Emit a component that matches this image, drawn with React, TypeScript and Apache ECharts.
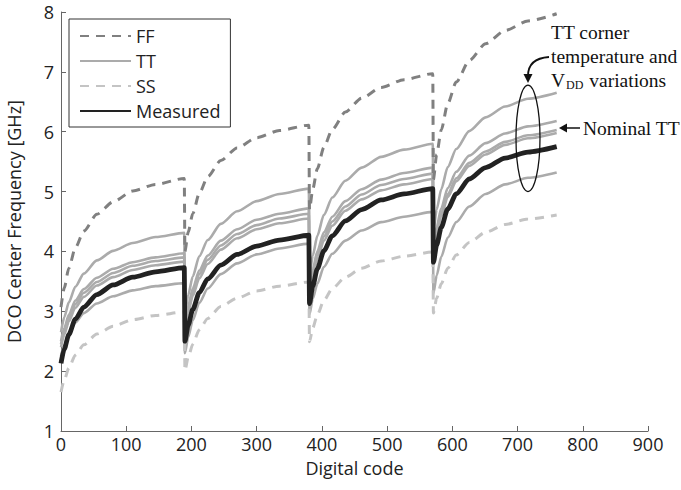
import React, { useEffect, useRef } from "react";
import * as echarts from "echarts";

// Digital code sample points (4 coarse-tuning segments)
const CODES = [
  0, 5, 12, 22, 35, 55, 80, 110, 145, 189,
  190, 195, 202, 212, 225, 245, 270, 300, 335, 380,
  381, 386, 393, 403, 416, 436, 461, 491, 526, 570,
  571, 576, 583, 593, 606, 626, 651, 681, 716, 760,
];

const FF = [
  3.07, 3.39, 3.72, 4.06, 4.34, 4.62, 4.83, 5.01, 5.12, 5.22,
  4.0, 4.32, 4.63, 4.97, 5.25, 5.52, 5.73, 5.9, 6.02, 6.11,
  4.7, 5.04, 5.38, 5.74, 6.04, 6.33, 6.56, 6.74, 6.87, 6.97,
  5.2, 5.62, 6.03, 6.47, 6.83, 7.19, 7.47, 7.69, 7.85, 7.97,
];

const SS = [
  1.65, 1.85, 2.05, 2.27, 2.44, 2.62, 2.75, 2.86, 2.93, 2.99,
  2.01, 2.23, 2.45, 2.69, 2.88, 3.08, 3.22, 3.34, 3.42, 3.49,
  2.49, 2.72, 2.94, 3.18, 3.38, 3.57, 3.72, 3.84, 3.92, 3.99,
  2.97, 3.22, 3.46, 3.72, 3.94, 4.15, 4.32, 4.45, 4.54, 4.61,
];

const MEASURED = [
  2.13, 2.37, 2.61, 2.87, 3.07, 3.28, 3.44, 3.57, 3.66, 3.73,
  2.5, 2.77, 3.03, 3.31, 3.54, 3.77, 3.95, 4.09, 4.19, 4.27,
  3.13, 3.42, 3.71, 4.01, 4.26, 4.51, 4.7, 4.86, 4.96, 5.05,
  3.82, 4.11, 4.4, 4.71, 4.96, 5.21, 5.4, 5.56, 5.66, 5.75,
];

const TT_HIGH = [
  2.65, 2.9, 3.15, 3.41, 3.63, 3.85, 4.01, 4.14, 4.24, 4.31,
  2.95, 3.27, 3.58, 3.92, 4.19, 4.46, 4.67, 4.84, 4.96, 5.05,
  3.6, 3.93, 4.26, 4.61, 4.9, 5.18, 5.4, 5.58, 5.7, 5.8,
  4.35, 4.7, 5.04, 5.41, 5.71, 6.01, 6.24, 6.42, 6.55, 6.65,
];

const TT_MIDHIGH = [
  2.5, 2.72, 2.94, 3.18, 3.37, 3.56, 3.71, 3.82, 3.9, 3.97,
  2.8, 3.09, 3.38, 3.68, 3.93, 4.18, 4.37, 4.53, 4.63, 4.72,
  3.4, 3.7, 4.0, 4.32, 4.58, 4.84, 5.04, 5.2, 5.31, 5.4,
  4.1, 4.41, 4.72, 5.06, 5.33, 5.6, 5.81, 5.97, 6.09, 6.18,
];

const TT_NOMINAL = [
  2.45, 2.67, 2.89, 3.12, 3.31, 3.49, 3.64, 3.76, 3.84, 3.9,
  2.75, 3.03, 3.31, 3.62, 3.86, 4.1, 4.29, 4.44, 4.55, 4.63,
  3.35, 3.64, 3.94, 4.25, 4.5, 4.75, 4.95, 5.11, 5.21, 5.3,
  4.05, 4.35, 4.64, 4.96, 5.22, 5.48, 5.67, 5.83, 5.94, 6.03,
];

const TT_MIDLOW = [
  2.4, 2.61, 2.83, 3.06, 3.24, 3.43, 3.57, 3.69, 3.77, 3.83,
  2.7, 2.98, 3.26, 3.55, 3.79, 4.03, 4.22, 4.37, 4.47, 4.55,
  3.3, 3.59, 3.87, 4.18, 4.43, 4.68, 4.87, 5.02, 5.12, 5.21,
  4.0, 4.3, 4.59, 4.91, 5.17, 5.43, 5.62, 5.78, 5.89, 5.98,
];

const TT_LOW = [
  2.25, 2.43, 2.62, 2.81, 2.97, 3.13, 3.25, 3.35, 3.42, 3.47,
  2.3, 2.57, 2.85, 3.14, 3.38, 3.62, 3.8, 3.95, 4.05, 4.13,
  2.95, 3.21, 3.46, 3.74, 3.96, 4.18, 4.35, 4.49, 4.58, 4.66,
  3.3, 3.6, 3.91, 4.23, 4.49, 4.75, 4.96, 5.12, 5.23, 5.32,
];

const LEGEND_NAMES = ["FF", "TT", "SS", "Measured"];
const X_TICKS = { min: 0, max: 900, interval: 100 };
const Y_TICKS = { min: 1, max: 8, interval: 1 };

const SANS = "'Open Sans', 'DejaVu Sans', sans-serif";
const SERIF = "'Liberation Serif', 'DejaVu Serif', serif";

const pairs = (vals: number[]) => CODES.map((c, i) => [c, vals[i]]);

export default function App() {
  const ref = useRef<HTMLDivElement>(null);

  useEffect(() => {
    if (!ref.current) return;
    const chart = echarts.init(ref.current, undefined, { renderer: "svg" });

    const ttStyle = { color: "#ababab", width: 2.6 };
    const ttSeries = [TT_HIGH, TT_MIDHIGH, TT_NOMINAL, TT_MIDLOW, TT_LOW].map((v) => ({
      name: "TT",
      type: "line",
      data: pairs(v),
      symbol: "none",
      smooth: 0.25,
      smoothMonotone: "x",
      lineStyle: ttStyle,
      itemStyle: { color: "#ababab" },
      z: 2,
    }));

    chart.setOption({
      animation: false,
      backgroundColor: "#ffffff",
      grid: { left: 61, right: 33, top: 12, bottom: 59, outerBoundsMode: "none", containLabel: false },
      legend: {
        data: LEGEND_NAMES,
        orient: "vertical",
        left: 69,
        top: 19,
        itemWidth: 51,
        itemHeight: 14,
        itemGap: 5,
        padding: [7, 10, 6, 10],
        borderColor: "#333",
        borderWidth: 1,
        itemStyle: { opacity: 0 },
        textStyle: { fontFamily: SANS, fontSize: 18, color: "#222", lineHeight: 20 },
        selectedMode: false,
      },
      xAxis: {
        type: "value",
        ...X_TICKS,
        name: "Digital code",
        nameLocation: "middle",
        nameGap: 28,
        nameTextStyle: { fontFamily: SANS, fontSize: 18, color: "#222" },
        axisLine: { lineStyle: { color: "#666", width: 1 } },
        axisTick: { inside: true, length: 5, lineStyle: { color: "#666" } },
        axisLabel: { fontFamily: SANS, fontSize: 18, color: "#222", margin: 4 },
        splitLine: { show: false },
      },
      yAxis: {
        type: "value",
        ...Y_TICKS,
        name: "DCO Center Frequency [GHz]",
        nameLocation: "middle",
        nameGap: 38,
        nameTextStyle: { fontFamily: SANS, fontSize: 18, color: "#222" },
        axisLine: { show: true, lineStyle: { color: "#666", width: 1 } },
        axisTick: { show: true, inside: true, length: 5, lineStyle: { color: "#666" } },
        axisLabel: { fontFamily: SANS, fontSize: 18, color: "#222", margin: 7 },
        splitLine: { show: false },
      },
      series: [
        ...ttSeries,
        {
          name: "SS",
          type: "line",
          data: pairs(SS),
          symbol: "none",
          smooth: 0.25,
          smoothMonotone: "x",
          lineStyle: { color: "#c4c4c4", width: 3, type: [9, 7] },
          itemStyle: { color: "#c4c4c4" },
          z: 3,
        },
        {
          name: "FF",
          type: "line",
          data: pairs(FF),
          symbol: "none",
          smooth: 0.25,
          smoothMonotone: "x",
          lineStyle: { color: "#808080", width: 3, type: [9, 7] },
          itemStyle: { color: "#808080" },
          z: 3,
        },
        {
          name: "Measured",
          type: "line",
          data: pairs(MEASURED),
          symbol: "none",
          smooth: 0.25,
          smoothMonotone: "x",
          lineStyle: { color: "#222", width: 4.8 },
          itemStyle: { color: "#222" },
          z: 4,
        },
      ],
    });

    // annotation positioned in data coordinates
    const c = chart.convertToPixel({ gridIndex: 0 }, [716, 5.89]) as number[];
    const top = chart.convertToPixel({ gridIndex: 0 }, [716, 6.78]) as number[];
    const ry = c[1] - top[1];

    chart.setOption({
      graphic: [
        {
          type: "ellipse",
          shape: { cx: c[0], cy: c[1], rx: 12, ry },
          style: { fill: "none", stroke: "#111", lineWidth: 1.3 },
          z: 10,
        },
        {
          type: "bezierCurve",
          shape: {
            x1: 549, y1: 57,
            cpx1: 534, cpy1: 58,
            cpx2: c[0], cpy2: 65,
            x2: c[0], y2: top[1] - 9,
          },
          style: { fill: "none", stroke: "#111", lineWidth: 1.8 },
          z: 10,
        },
        {
          type: "polygon",
          shape: {
            points: [
              [c[0], top[1] - 2],
              [c[0] - 4.5, top[1] - 11],
              [c[0] + 4.5, top[1] - 11],
            ],
          },
          style: { fill: "#111" },
          z: 10,
        },
        {
          type: "text",
          x: 551,
          y: 20,
          style: {
            text: "{a|TT corner}\n{a|temperature and}\n{a|V}{b|DD}{a| variations}",
            fill: "#111",
            rich: {
              a: { fontFamily: SERIF, fontSize: 19.5, lineHeight: 24, fill: "#111" },
              b: { fontFamily: SERIF, fontSize: 12, lineHeight: 24, padding: [9, 1, 0, 1], fill: "#111" },
            },
          },
          z: 10,
        },
        {
          type: "line",
          shape: { x1: 564, y1: 128, x2: 580, y2: 128 },
          style: { stroke: "#111", lineWidth: 1.5 },
          z: 10,
        },
        {
          type: "polygon",
          shape: { points: [[559, 128], [567, 123.5], [567, 132.5]] },
          style: { fill: "#111" },
          z: 10,
        },
        {
          type: "text",
          x: 583,
          y: 128,
          style: {
            text: "Nominal TT",
            fontFamily: SERIF,
            fontSize: 19.5,
            fill: "#111",
            verticalAlign: "middle",
          },
          z: 10,
        },
      ],
    });

    return () => chart.dispose();
  }, []);

  return (
    <div
      ref={ref}
      style={{ position: "absolute", left: 0, top: 0, width: 681, height: 490, background: "#fff" }}
    />
  );
}
